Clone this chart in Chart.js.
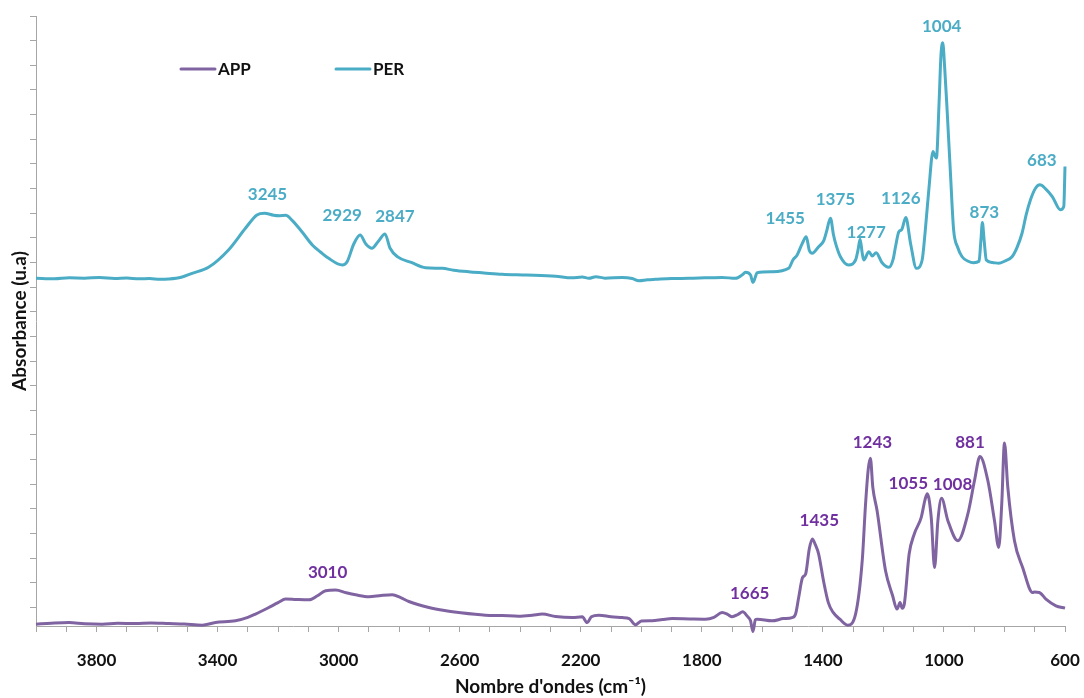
<!DOCTYPE html>
<html>
<head>
<meta charset="utf-8">
<title>Spectres IR APP / PER</title>
<script src="https://cdn.jsdelivr.net/npm/chart.js@4.4.1/dist/chart.umd.min.js"></script>
<style>
  html, body { margin: 0; padding: 0; background: #fff; }
  canvas { display: block; }
</style>
</head>
<body>
<canvas id="spectraChart" width="1084" height="698"></canvas>
<script>
// APP spectrum (wavenumber in cm-1, absorbance in u.a)
const appWavenumbers = [
  4000, 3950, 3891, 3840, 3781, 3730, 3671, 3620, 3561, 3510, 3451, 3407, 3341, 3300, 3275,
  3231, 3200, 3175, 3140, 3098, 3070, 3043, 3010, 2975, 2944, 2900, 2860, 2823, 2795, 2768,
  2702, 2650, 2603, 2515, 2460, 2405, 2360, 2327, 2283, 2228, 2195, 2179, 2165, 2140, 2100,
  2063, 2040, 2019, 2000, 1964, 1930, 1898, 1840, 1788, 1760, 1733, 1715, 1700, 1680, 1665,
  1650, 1639, 1631, 1623, 1617, 1568, 1530, 1502, 1490, 1480, 1467, 1457, 1445, 1435, 1425,
  1414, 1398, 1382, 1366, 1344, 1318, 1292, 1270, 1259, 1250, 1243, 1235, 1221, 1193, 1170,
  1155, 1145, 1138, 1131, 1115, 1098, 1075, 1062, 1055, 1042, 1031, 1020, 1008, 987, 954,
  921, 899, 881, 855, 833, 819, 809, 800, 789, 767, 740, 707, 700, 685, 663, 630, 600
];
const appAbsorbance = [
  -0.0270, -0.0255, -0.0244, -0.0262, -0.0270, -0.0255, -0.0260, -0.0250, -0.0260, -0.0268, -0.0286, -0.0244, -0.0216, -0.0160, -0.0107,
  0.0000, 0.0080, 0.0137, 0.0130, 0.0125, 0.0190, 0.0272, 0.0283, 0.0240, 0.0207, 0.0174, 0.0195, 0.0207, 0.0160, 0.0098,
  0.0000, -0.0050, -0.0081, -0.0124, -0.0130, -0.0140, -0.0125, -0.0107, -0.0146, -0.0163, -0.0150, -0.0244, -0.0150, -0.0124, -0.0150,
  -0.0163, -0.0180, -0.0281, -0.0220, -0.0216, -0.0195, -0.0179, -0.0185, -0.0189, -0.0160, -0.0081, -0.0110, -0.0151, -0.0110, -0.0070,
  -0.0140, -0.0216, -0.0390, -0.0200, -0.0189, -0.0216, -0.0180, -0.0163, -0.0100, 0.0163, 0.0488, 0.0543, 0.0950, 0.1113, 0.1020,
  0.0868, 0.0434, 0.0080, -0.0080, -0.0190, -0.0286, -0.0107, 0.0760, 0.1680, 0.2250, 0.2424, 0.1950, 0.1573, 0.0597, 0.0200,
  -0.0026, 0.0081, -0.0010, 0.0055, 0.0868, 0.1194, 0.1464, 0.1760, 0.1845, 0.1464, 0.0650, 0.1410, 0.1773, 0.1410, 0.1085,
  0.1519, 0.2061, 0.2451, 0.2061, 0.1410, 0.0976, 0.1682, 0.2668, 0.1952, 0.1085, 0.0650, 0.0244, 0.0250, 0.0244, 0.0137, 0.0028, -0.0010
];

// PER spectrum
const perWavenumbers = [
  4000, 3940, 3890, 3840, 3790, 3740, 3700, 3660, 3625, 3590, 3562, 3520, 3484, 3430, 3364,
  3308, 3270, 3245, 3215, 3195, 3175, 3153, 3120, 3087, 3060, 3033, 2988, 2972, 2950, 2929,
  2910, 2890, 2868, 2847, 2830, 2805, 2760, 2713, 2658, 2620, 2571, 2520, 2460, 2380, 2283,
  2230, 2195, 2173, 2150, 2120, 2063, 2030, 2008, 1980, 1953, 1900, 1843, 1790, 1733, 1689,
  1666, 1656, 1639, 1631, 1617, 1568, 1513, 1499, 1485, 1468, 1455, 1445, 1435, 1414, 1397,
  1388, 1375, 1365, 1358, 1342, 1315, 1292, 1284, 1277, 1270, 1265, 1248, 1237, 1224, 1205,
  1182, 1168, 1160, 1149, 1140, 1126, 1110, 1091, 1072, 1062, 1050, 1036, 1030, 1025, 1016,
  1010, 1004, 998, 989, 978, 968, 955, 940, 920, 902, 884, 878, 873, 867, 860,
  840, 819, 800, 775, 758, 742, 728, 714, 698, 683, 665, 642, 615, 604, 600
];
const perAbsorbance = [
  0.5342, 0.5334, 0.5350, 0.5345, 0.5355, 0.5340, 0.5347, 0.5336, 0.5339, 0.5326, 0.5331, 0.5360, 0.5424, 0.5521, 0.5803,
  0.6155, 0.6372, 0.6400, 0.6368, 0.6360, 0.6365, 0.6279, 0.6090, 0.5884, 0.5770, 0.5667, 0.5558, 0.5612, 0.5900, 0.6047,
  0.5900, 0.5830, 0.5950, 0.6063, 0.5830, 0.5690, 0.5600, 0.5515, 0.5505, 0.5475, 0.5450, 0.5430, 0.5407, 0.5395, 0.5376,
  0.5350, 0.5365, 0.5342, 0.5370, 0.5345, 0.5358, 0.5340, 0.5303, 0.5318, 0.5326, 0.5340, 0.5342, 0.5350, 0.5358, 0.5342,
  0.5400, 0.5440, 0.5396, 0.5277, 0.5433, 0.5449, 0.5505, 0.5640, 0.5721, 0.5911, 0.6019, 0.5800, 0.5749, 0.5856, 0.5954,
  0.6100, 0.6318, 0.6050, 0.5911, 0.5693, 0.5558, 0.5640, 0.5800, 0.5977, 0.5750, 0.5640, 0.5775, 0.5705, 0.5759, 0.5600,
  0.5521, 0.5650, 0.5856, 0.6100, 0.6130, 0.6328, 0.5900, 0.5505, 0.5640, 0.6100, 0.6778, 0.7402, 0.7330, 0.7294, 0.8200,
  0.8950, 0.9165, 0.8800, 0.8026, 0.7000, 0.6128, 0.5850, 0.5693, 0.5620, 0.5596, 0.5620, 0.5950, 0.6247, 0.5950, 0.5640,
  0.5600, 0.5586, 0.5620, 0.5693, 0.5850, 0.6074, 0.6380, 0.6616, 0.6800, 0.6860, 0.6800, 0.6670, 0.6454, 0.6507, 0.7157
];

// labelled bands
const appPeaks = [3010, 1665, 1435, 1243, 1055, 1008, 881];
const perPeaks = [3245, 2929, 2847, 1455, 1375, 1277, 1126, 1004, 873, 683];

// axis ticks
const xTickLabels = [3800, 3400, 3000, 2600, 2200, 1800, 1400, 1000, 600];
const yTickValues = [];
for (let i = 0; i <= 24; i++) yTickValues.push(Math.round(i * 4) / 100);

const APP_COLOR = '#8064A2';
const PER_COLOR = '#4BACC6';
const AXIS_GRAY = '#a6a6a6';
const TEXT_COLOR = '#111111';
const FONT = 'Lato';

const toPoints = (xs, ys) => xs.map((x, i) => ({ x: x, y: ys[i] }));

// legend drawn inside the plot, top left
const insideLegend = {
  id: 'insideLegend',
  afterDraw(chart, args, opts) {
    const ctx = chart.ctx;
    ctx.save();
    ctx.font = 'bold 17px ' + FONT;
    ctx.textBaseline = 'middle';
    ctx.textAlign = 'left';
    chart.data.datasets.forEach((ds, i) => {
      const x0 = opts.x + i * opts.spacing;
      ctx.strokeStyle = ds.borderColor;
      ctx.lineWidth = 3;
      ctx.lineCap = 'round';
      ctx.beginPath();
      ctx.moveTo(x0, opts.y);
      ctx.lineTo(x0 + opts.lineLength, opts.y);
      ctx.stroke();
      ctx.fillStyle = TEXT_COLOR;
      ctx.fillText(ds.label, x0 + opts.lineLength + 3, opts.y + 1);
    });
    ctx.restore();
  }
};

// wavenumber labels above the bands
const peakLabels = {
  id: 'peakLabels',
  afterDatasetsDraw(chart, args, opts) {
    const { ctx, scales } = chart;
    ctx.save();
    ctx.font = 'bold 17px ' + FONT;
    ctx.textAlign = 'center';
    ctx.textBaseline = 'middle';
    chart.data.datasets.forEach((ds, i) => {
      const set = opts.sets[i];
      ctx.fillStyle = set.color;
      set.peaks.forEach((wn, k) => {
        const pt = ds.data.find(p => p.x === wn);
        if (!pt) return;
        const off = set.offsets[k];
        ctx.fillText(String(wn),
          scales.x.getPixelForValue(wn) + off[0],
          scales.y.getPixelForValue(pt.y) + off[1]);
      });
    });
    ctx.restore();
  }
};

new Chart(document.getElementById('spectraChart'), {
  type: 'line',
  data: {
    datasets: [
      {
        label: 'APP',
        data: toPoints(appWavenumbers, appAbsorbance),
        borderColor: APP_COLOR,
        borderWidth: 3,
        pointRadius: 0,
        cubicInterpolationMode: 'monotone',
        clip: 8
      },
      {
        label: 'PER',
        data: toPoints(perWavenumbers, perAbsorbance),
        borderColor: PER_COLOR,
        borderWidth: 3,
        pointRadius: 0,
        cubicInterpolationMode: 'monotone',
        clip: 8
      }
    ]
  },
  options: {
    responsive: false,
    animation: false,
    layout: { padding: { top: 16, right: 0, bottom: 0, left: 0 } },
    plugins: {
      legend: { display: false },
      tooltip: { enabled: false },
      insideLegend: { x: 181, y: 69, spacing: 155, lineLength: 34 },
      peakLabels: {
        sets: [
          {
            color: '#7030A0',
            peaks: appPeaks,
            offsets: [[-8, -18], [7, -18], [7, -18], [2, -16], [-19, -10], [11, -14], [-10, -14]]
          },
          {
            color: PER_COLOR,
            peaks: perPeaks,
            offsets: [[3, -19], [-18, -19], [10, -17], [-21, -18], [5, -19], [6, -7], [-5, -19], [-1, -16], [2, -10], [2, -24]]
          }
        ]
      }
    },
    scales: {
      x: {
        type: 'linear',
        reverse: true,
        min: 600,
        max: 4000,
        border: { color: AXIS_GRAY, width: 1 },
        grid: { drawOnChartArea: false, color: AXIS_GRAY, tickLength: 6 },
        ticks: {
          stepSize: 100,
          autoSkip: false,
          maxRotation: 0,
          padding: 18,
          color: TEXT_COLOR,
          font: { family: FONT, size: 17, weight: 'bold' },
          callback: v => xTickLabels.includes(v) ? String(v) : ''
        },
        title: {
          display: true,
          text: "Nombre d'ondes (cm\u207B\u00B9)",
          color: TEXT_COLOR,
          font: { family: FONT, size: 19, weight: 'bold' },
          padding: { top: 0, bottom: 0 }
        },
        // keep the plot right edge close to the "600" label
        afterFit: s => { s.height = 72; s.paddingLeft = 0; s.paddingRight = 19; }
      },
      y: {
        min: -0.03,
        max: 0.96,
        border: { color: AXIS_GRAY, width: 1 },
        grid: { drawOnChartArea: false, color: AXIS_GRAY, tickLength: 6 },
        ticks: { display: false },
        afterBuildTicks: s => { s.ticks = yTickValues.map(v => ({ value: v })); },
        title: {
          display: true,
          text: 'Absorbance (u.a)',
          color: TEXT_COLOR,
          font: { family: FONT, size: 19, weight: 'bold' },
          padding: { top: 8, bottom: 0 }
        },
        afterFit: s => { s.width = 36; }
      }
    }
  },
  plugins: [insideLegend, peakLabels]
});
</script>
</body>
</html>
